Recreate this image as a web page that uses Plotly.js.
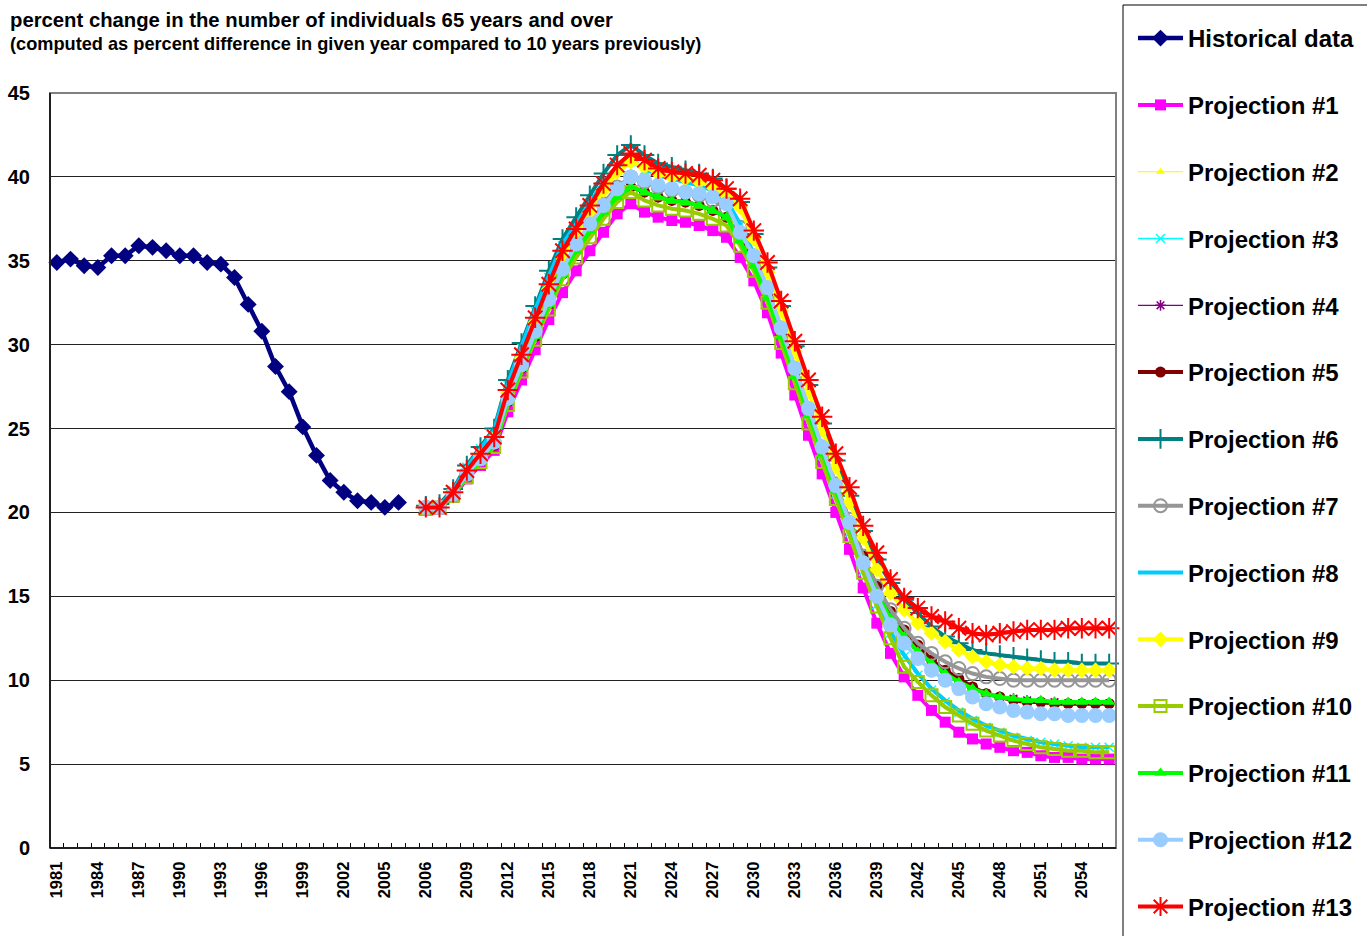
<!DOCTYPE html>
<html><head><meta charset="utf-8">
<script src="https://cdn.plot.ly/plotly-3.0.1.min.js"></script>
<style>html,body{margin:0;padding:0;background:#fff;}#chart{width:1367px;height:936px;}</style>
</head><body><div id="chart"></div>
<script>
// ---------- DATA ----------
const histYears = ['1981','1982','1983','1984','1985','1986','1987','1988','1989','1990','1991','1992','1993','1994','1995','1996','1997','1998','1999','2000','2001','2002','2003','2004','2005','2006'];
const projYears = ['2006','2007','2008','2009','2010','2011','2012','2013','2014','2015','2016','2017','2018','2019','2020','2021','2022','2023','2024','2025','2026','2027','2028','2029','2030','2031','2032','2033','2034','2035','2036','2037','2038','2039','2040','2041','2042','2043','2044','2045','2046','2047','2048','2049','2050','2051','2052','2053','2054','2055','2056'];

const historical = [34.9,35.1,34.7,34.6,35.3,35.3,35.9,35.8,35.6,35.3,35.3,34.9,34.8,34.0,32.4,30.8,28.7,27.2,25.1,23.4,21.9,21.2,20.7,20.6,20.3,20.6];

const proj1 = [20.2,20.2,20.9,22.0,22.8,23.7,26.0,27.9,29.7,31.5,
 33.1,34.4,35.6,36.7,37.8,38.4,37.9,37.6,37.4,37.3,
 37.1,36.8,36.4,35.2,33.8,31.9,29.5,27.0,24.6,22.3,
 20.0,17.8,15.5,13.4,11.6,10.2,9.1,8.2,7.5,6.9,
 6.5,6.2,6.0,5.8,5.7,5.5,5.4,5.4,5.3,5.3,5.3];
const proj2 = [20.3,20.3,21.1,22.4,23.3,24.3,27.0,29.1,31.2,33.2,
 35.1,36.4,37.8,39.1,40.2,40.8,40.5,40.1,39.9,39.8,
 39.6,39.3,38.8,38.1,36.2,34.2,31.9,29.5,27.1,24.8,
 22.6,20.5,18.4,16.5,15.1,14.1,13.3,12.7,12.2,11.7,
 11.3,11.0,10.8,10.7,10.6,10.6,10.5,10.5,10.5,10.5,10.5];
const proj3 = [20.3,20.4,21.3,22.7,23.8,24.8,27.6,29.8,32.0,34.0,
 35.9,37.1,38.4,39.6,40.5,40.9,40.4,40.0,39.8,39.6,
 39.4,39.1,38.5,37.1,35.3,33.2,30.8,28.3,25.8,23.4,
 21.1,18.8,16.5,14.5,12.8,11.4,10.3,9.4,8.7,8.1,
 7.6,7.2,6.9,6.6,6.4,6.3,6.2,6.1,6.0,6.0,6.0];
const proj4 = [20.2,20.3,21.0,22.2,23.1,24.0,26.6,28.6,30.5,32.4,
 34.2,35.6,36.8,37.9,38.8,39.4,39.1,38.8,38.6,38.5,
 38.3,38.0,37.6,36.3,34.8,32.9,30.6,28.2,25.9,23.6,
 21.4,19.3,17.2,15.4,13.9,12.8,11.9,11.2,10.5,10.0,
 9.6,9.2,9.0,8.9,8.8,8.7,8.7,8.6,8.6,8.6,8.6];
const proj5 = [20.2,20.3,21.0,22.2,23.1,24.0,26.6,28.6,30.5,32.4,
 34.2,35.6,36.8,37.9,38.8,39.4,39.1,38.8,38.6,38.5,
 38.3,38.0,37.6,36.3,34.8,32.9,30.6,28.3,26.0,23.7,
 21.6,19.5,17.4,15.6,14.1,13.0,12.1,11.2,10.6,10.1,
 9.6,9.2,9.0,8.8,8.7,8.7,8.6,8.6,8.6,8.6,8.6];
const proj6 = [20.4,20.5,21.4,22.8,23.9,25.0,27.9,30.1,32.3,34.4,
 36.3,37.6,38.9,40.2,41.3,41.9,41.3,40.8,40.6,40.4,
 40.2,39.9,39.3,38.5,36.6,34.6,32.3,29.9,27.6,25.3,
 23.1,21.0,18.9,17.2,15.8,14.8,14.0,13.2,12.6,12.2,
 11.8,11.6,11.5,11.4,11.3,11.2,11.1,11.1,11.0,11.0,11.0];
const proj7 = [20.3,20.3,21.0,22.3,23.2,24.2,26.8,28.8,30.9,32.8,
 34.6,35.9,37.2,38.4,39.4,40.0,39.7,39.4,39.2,39.1,
 38.9,38.6,38.1,37.0,35.3,33.3,31.0,28.6,26.2,23.9,
 21.7,19.6,17.4,15.6,14.2,13.1,12.2,11.6,11.1,10.7,
 10.4,10.2,10.1,10.0,10.0,10.0,10.0,10.0,10.0,10.0,10.0];
const proj8 = [20.3,20.4,21.3,22.7,23.8,24.9,27.7,29.9,32.1,34.1,
 36.0,37.2,38.5,39.7,40.6,41.0,40.5,40.1,39.9,39.7,
 39.5,39.2,38.6,37.2,35.4,33.3,30.9,28.4,25.9,23.5,
 21.2,18.9,16.6,14.6,12.9,11.5,10.4,9.5,8.8,8.2,
 7.7,7.3,7.0,6.7,6.5,6.3,6.2,6.1,6.0,6.0,6.0];
const proj9 = [20.3,20.3,21.1,22.4,23.4,24.4,27.1,29.2,31.3,33.3,
 35.2,36.5,37.9,39.2,40.3,40.9,40.6,40.2,40.0,39.9,
 39.7,39.4,38.9,38.2,36.3,34.3,32.0,29.6,27.2,24.9,
 22.7,20.6,18.5,16.6,15.2,14.2,13.4,12.8,12.3,11.8,
 11.4,11.1,10.9,10.8,10.7,10.7,10.6,10.6,10.6,10.6,10.6];
const proj10 = [20.2,20.3,21.0,22.1,23.0,23.9,26.4,28.4,30.3,32.1,
 33.9,35.2,36.4,37.5,38.5,39.1,38.6,38.3,38.1,38.0,
 37.8,37.5,37.1,35.9,34.4,32.5,30.1,27.7,25.3,23.0,
 20.8,18.6,16.4,14.4,12.5,10.8,9.9,9.1,8.4,7.9,
 7.4,7.0,6.7,6.4,6.2,6.0,5.9,5.8,5.8,5.7,5.7];
const proj11 = [20.2,20.3,21.0,22.2,23.1,24.0,26.6,28.6,30.5,32.4,
 34.2,35.6,36.8,37.9,38.8,39.4,39.1,38.8,38.6,38.5,
 38.3,38.0,37.6,36.2,34.7,32.8,30.5,28.1,25.8,23.5,
 21.3,19.2,17.0,15.2,13.7,12.6,11.7,11.0,10.4,9.9,
 9.5,9.2,9.0,8.9,8.8,8.8,8.7,8.7,8.7,8.7,8.7];
const proj12 = [20.3,20.3,21.1,22.3,23.2,24.2,26.8,28.8,30.8,32.7,
 34.5,36.0,37.2,38.3,39.3,40.0,39.8,39.5,39.3,39.1,
 39.0,38.8,38.4,36.7,35.3,33.4,31.0,28.6,26.2,23.9,
 21.6,19.4,17.0,15.0,13.3,12.2,11.3,10.6,10.0,9.5,
 9.0,8.6,8.4,8.2,8.1,8.0,8.0,7.9,7.9,7.9,7.9];
const proj13 = [20.3,20.3,21.2,22.5,23.5,24.5,27.3,29.4,31.6,33.6,
 35.6,36.9,38.3,39.6,40.7,41.4,41.0,40.5,40.3,40.2,
 40.1,39.8,39.3,38.7,36.8,34.9,32.6,30.2,27.9,25.7,
 23.5,21.5,19.2,17.6,16.0,14.9,14.3,13.8,13.5,13.1,
 12.8,12.7,12.8,12.9,13.0,13.0,13.0,13.1,13.1,13.1,13.1];

const yTicks = [0,5,10,15,20,25,30,35,40,45];
const titleLine1 = 'percent change in the number of individuals 65 years and over';
const titleLine2 = '(computed as percent difference in given year compared to 10 years previously)';

// ---------- LAYOUT HELPERS ----------
const FONT = 'Arial, "Liberation Sans", sans-serif';
// category slots: historical years, one empty slot, then projection years
const slots = histYears.concat([''], projYears);
const histX = histYears.map((_, i) => i);
const projOffset = histYears.length + 1;
const projX = projYears.map((_, i) => projOffset + i);
const tickVals = [], tickText = [];
for (let i = 0; i < slots.length; i += 3) { tickVals.push(i); tickText.push(slots[i]); }

const projStyles = [
  {name:'Projection #1', y:proj1, color:'#FF00FF', width:4, symbol:'square', size:11},
  {name:'Projection #2', y:proj2, color:'#FFFF00', width:1.3, symbol:'triangle-up', size:8},
  {name:'Projection #3', y:proj3, color:'#00FFFF', width:1.3, symbol:'x-thin-open', size:9, open:true, mlw:1.5},
  {name:'Projection #4', y:proj4, color:'#800080', width:1.3, symbol:'asterisk-open', size:9, open:true, mlw:1.5},
  {name:'Projection #5', y:proj5, color:'#800000', width:4, symbol:'circle', size:11},
  {name:'Projection #6', y:proj6, color:'#008080', width:4, symbol:'cross-thin-open', size:14, open:true, mlw:2},
  {name:'Projection #7', y:proj7, color:'#969696', width:4, symbol:'circle-open', size:13, open:true, mlw:2},
  {name:'Projection #8', y:proj8, color:'#00CCFF', width:4, symbol:'circle', size:0},
  {name:'Projection #9', y:proj9, color:'#FFFF00', width:4, symbol:'diamond', size:12},
  {name:'Projection #10', y:proj10, color:'#99CC00', width:4, symbol:'square-open', size:12, open:true, mlw:2},
  {name:'Projection #11', y:proj11, color:'#00FF00', width:4, symbol:'triangle-up', size:11},
  {name:'Projection #12', y:proj12, color:'#99CCFF', width:4, symbol:'circle', size:15},
  {name:'Projection #13', y:proj13, color:'#FF0000', width:4, symbol:'asterisk-open', size:17, open:true, mlw:2}
];

const traces = [{
  type:'scatter', mode:'lines+markers', name:'Historical data', legendgroup:'h',
  x: histX, y: historical, cliponaxis:false,
  line:{color:'#000080', width:4.5},
  marker:{symbol:'diamond', size:13, color:'#000080'}
}];
projStyles.forEach((s, k) => {
  const marker = {symbol:s.symbol, size:s.size, color:s.color};
  if (s.open) marker.line = {color:s.color, width:s.mlw};
  traces.push({
    type:'scatter', mode: s.size ? 'lines+markers' : 'lines', name:s.name, legendgroup:'p'+k,
    x: projX, y: s.y, cliponaxis:false,
    line:{color:s.color, width:s.width}, marker: marker
  });
});

const W = 1367, H = 936;
const mL = 50, mR = 251, mT = 93, mB = 88;
const pw = W - mL - mR, ph = H - mT - mB;
const px = v => (v - mL) / pw;
const py = v => (H - mB - v) / ph;

const layout = {
  width: W, height: H,
  margin:{l:mL, r:mR, t:mT, b:mB, pad:0},
  paper_bgcolor:'#ffffff', plot_bgcolor:'#ffffff',
  font:{family:FONT, color:'#000'},
  showlegend:true,
  xaxis:{
    range:[-0.5, slots.length - 0.5], tickmode:'array', tickvals:tickVals, ticktext:tickText,
    tickangle:-90, ticks:'', showgrid:false, zeroline:false,
    showline:true, linecolor:'#000', linewidth:1,
    tickfont:{family:FONT, size:16.5, weight:'bold', color:'#000'},
    ticklabelstandoff:6,
    minor:{tickmode:'linear', tick0:-0.5, dtick:1, ticks:'inside', ticklen:5, tickcolor:'#000', tickwidth:1, showgrid:false}
  },
  yaxis:{
    range:[0,45], tickmode:'array', tickvals:yTicks, ticks:'',
    showgrid:true, gridcolor:'#222', gridwidth:1, zeroline:false,
    showline:true, linecolor:'#000', linewidth:1,
    tickfont:{family:FONT, size:20, weight:'bold', color:'#000'},
    ticklabelstandoff:15
  },
  legend:{
    xref:'container', yref:'container', x:1133/W, y:1 - 16/H, xanchor:'left', yanchor:'top',
    bgcolor:'rgba(0,0,0,0)', borderwidth:0, maxheight:2000,
    font:{family:FONT, size:24, weight:'bold', color:'#000'},
    tracegroupgap:32.6, itemwidth:45, traceorder:'grouped'
  },
  shapes:[
    {type:'rect', xref:'paper', yref:'paper', x0:0, x1:1, y0:0, y1:1, line:{color:'#808080', width:2}, layer:'above'},
    {type:'line', xref:'paper', yref:'paper', x0:0, x1:0, y0:0, y1:1, line:{color:'#000', width:1.5}, layer:'above'},
    {type:'line', xref:'paper', yref:'paper', x0:0, x1:1, y0:0, y1:0, line:{color:'#000', width:1.5}, layer:'above'},
    {type:'rect', xref:'paper', yref:'paper', x0:px(1123), x1:px(1400), y0:py(960), y1:py(5), line:{color:'#000', width:1}, fillcolor:'rgba(0,0,0,0)', layer:'above'}
  ],
  annotations:[
    {xref:'paper', yref:'paper', x:px(8), y:py(20), xanchor:'left', yanchor:'middle', showarrow:false,
     text:titleLine1, font:{family:FONT, size:20.3, weight:'bold', color:'#000'}},
    {xref:'paper', yref:'paper', x:px(8), y:py(44), xanchor:'left', yanchor:'middle', showarrow:false,
     text:titleLine2, font:{family:FONT, size:18.2, weight:'bold', color:'#000'}}
  ]
};

Plotly.newPlot('chart', traces, layout, {displayModeBar:false, responsive:false});
</script>
</body></html>
